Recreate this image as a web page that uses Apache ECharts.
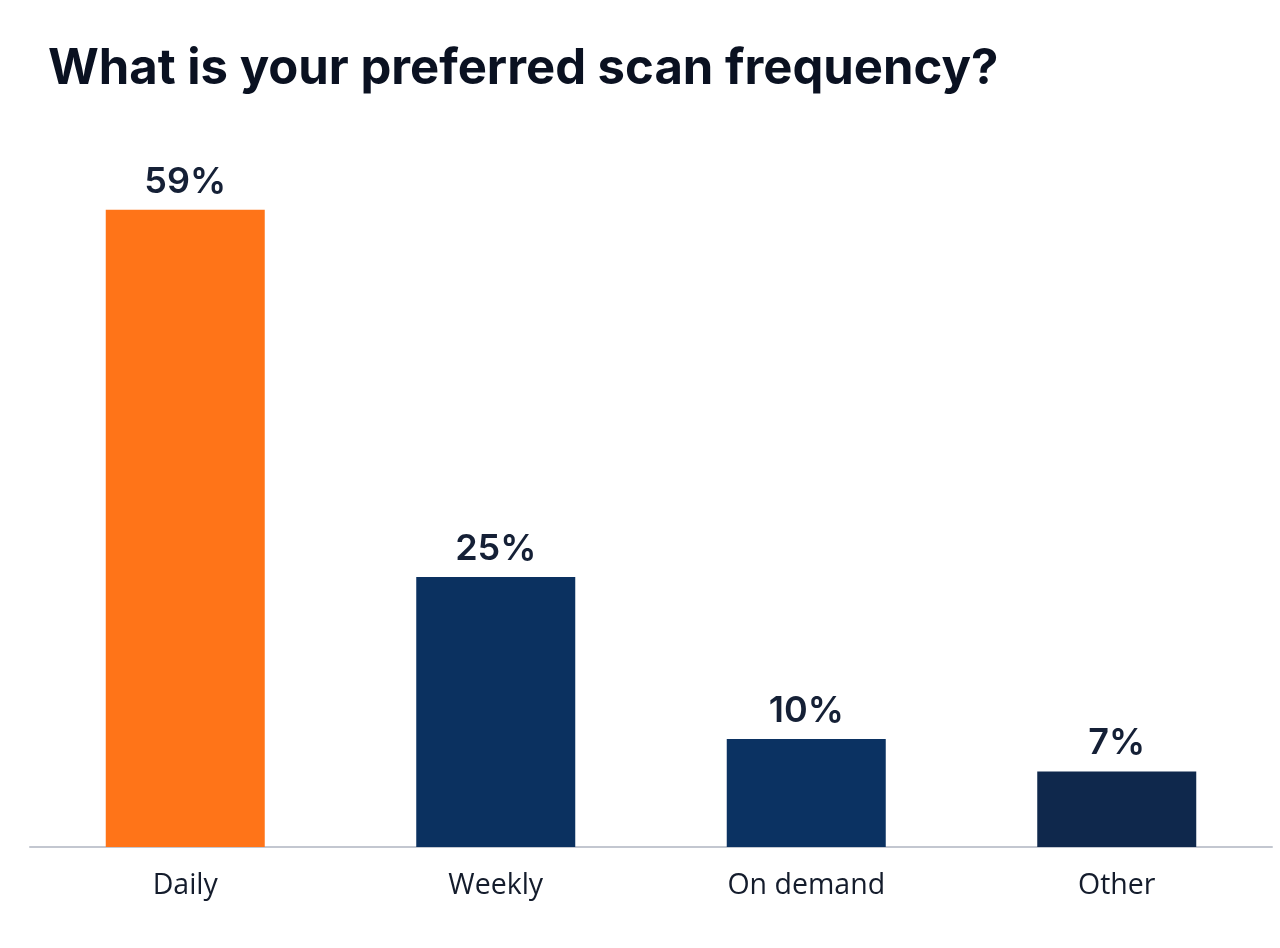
<!DOCTYPE html>
<html>
<head>
<meta charset="utf-8">
<script src="https://cdn.jsdelivr.net/npm/echarts@6/dist/echarts.min.js"></script>
<style>
html,body{margin:0;padding:0;background:#ffffff;}
#chart{width:1280px;height:948px;}
</style>
</head>
<body>
<div id="chart"></div>
<script>
const titleText = "What is your preferred scan frequency?";
const categories = ["Daily", "Weekly", "On demand", "Other"];
const values = [59, 25, 10, 7];
const barColors = ["#FF7418", "#0B3160", "#0B3262", "#0F284C"];

const chart = echarts.init(document.getElementById('chart'));
chart.setOption({
  backgroundColor: '#ffffff',
  animation: false,
  title: {
    text: titleText,
    left: 43,
    top: 40,
    textStyle: {
      fontFamily: 'Inter',
      fontWeight: 'bold',
      fontSize: 49,
      color: '#0A1121'
    }
  },
  grid: { left: 30, right: 8, top: 199, bottom: 101, containLabel: false },
  xAxis: {
    type: 'category',
    data: categories,
    axisLine: { show: true, lineStyle: { color: '#C3C7D0', width: 2 } },
    axisTick: { show: false },
    axisLabel: {
      margin: 24,
      fontFamily: 'Open Sans',
      fontSize: 28.5,
      color: '#141C2C'
    }
  },
  yAxis: {
    type: 'value',
    min: 0,
    max: 60,
    show: false,
    splitLine: { show: false }
  },
  series: [{
    type: 'bar',
    barWidth: 159,
    data: values.map((v, i) => ({ value: v, itemStyle: { color: barColors[i] } })),
    label: {
      show: true,
      position: 'top',
      distance: 10,
      formatter: '{c}%',
      fontFamily: 'Inter',
      fontWeight: 600,
      fontSize: 36,
      color: '#152036'
    }
  }]
});
</script>
</body>
</html>
